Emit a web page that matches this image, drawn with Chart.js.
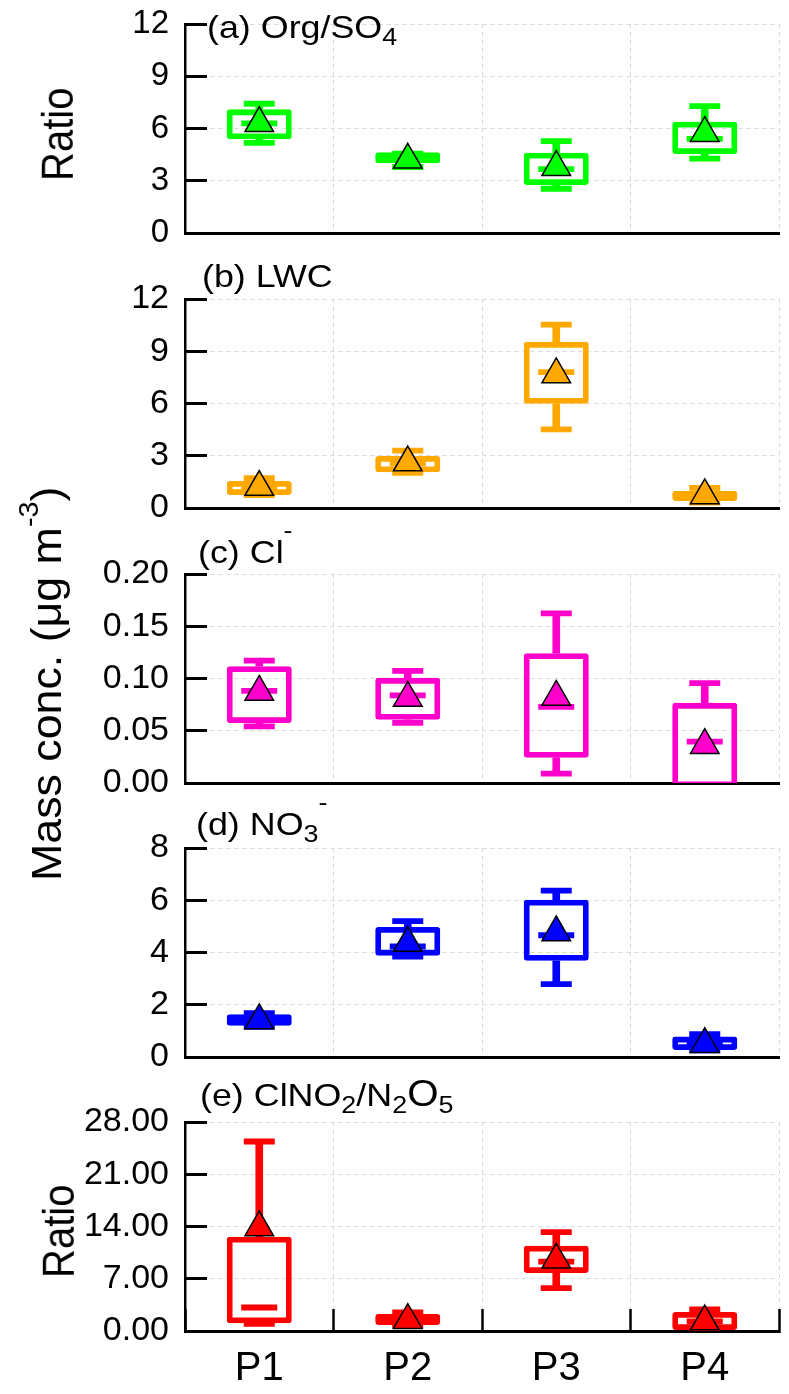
<!DOCTYPE html>
<html><head><meta charset="utf-8">
<script src="https://cdn.jsdelivr.net/npm/chart.js@4.4.0/dist/chart.umd.min.js"></script>
<style>
html,body{margin:0;padding:0;background:#fff;}
body{width:789px;height:1394px;position:relative;overflow:hidden;font-family:"Liberation Sans",Arial,sans-serif;}
canvas{position:absolute;left:0;}
.t{position:absolute;white-space:nowrap;font-size:32px;line-height:32px;color:#000;transform-origin:0 0;transform:scaleX(1.12);}
.sub{font-size:24px;line-height:0;vertical-align:-7px;}
.sup{font-size:24px;line-height:0;vertical-align:25px;}
.big{font-size:36px;line-height:0;}
.v{position:absolute;white-space:nowrap;font-size:40px;line-height:40px;color:#000;transform-origin:0 0;transform:rotate(-90deg) scaleY(1.1);}
.vm{position:absolute;white-space:nowrap;font-size:42px;line-height:42px;color:#000;transform-origin:0 0;transform:rotate(-90deg) scaleX(1.065);}
.vsup{font-size:27px;line-height:0;vertical-align:23px;}
</style></head><body>
<canvas id="ca" width="789" height="260" style="top:0px"></canvas>
<canvas id="cb" width="789" height="260" style="top:275px"></canvas>
<canvas id="cc" width="789" height="260" style="top:550px"></canvas>
<canvas id="cd" width="789" height="260" style="top:824px"></canvas>
<canvas id="ce" width="789" height="296" style="top:1098px"></canvas>

<div class="t" style="left:207px;top:11px">(a) Org/SO<span class="sub">4</span></div>
<div class="t" style="left:202px;top:260px">(b) LWC</div>
<div class="t" style="left:198px;top:530px">(c) Cl<span class="sup">-</span></div>
<div class="t" style="left:196px;top:802px">(d) NO<span class="sub">3</span><span class="sup">-</span></div>
<div class="t" style="left:200px;top:1079px">(e) ClNO<span class="sub">2</span>/N<span class="sub">2</span><span class="big">O</span><span class="sub">5</span></div>

<div class="v" style="left:35px;top:181px">Ratio</div>
<div class="v" style="left:36px;top:1278px">Ratio</div>
<div class="vm" style="left:26px;top:881px">Mass conc. (μg m<span class="vsup">-3</span>)</div>

<script>
const categories = ['P1', 'P2', 'P3', 'P4'];

// (a) Org/SO4 ratio
const orgMin  = [5.18, 3.79, 2.54, 4.27];
const orgQ1   = [5.38, 4.00, 2.76, 4.53];
const orgMed  = [6.30, 4.30, 3.67, 5.40];
const orgQ3   = [7.10, 4.63, 4.61, 6.39];
const orgMax  = [7.42, 4.56, 5.27, 7.28];
const orgMean = [6.30, 4.20, 3.78, 5.73];
const orgTicks = [0, 3, 6, 9, 12];
const orgTickLabels = ['0', '3', '6', '9', '12'];

// (b) LWC
const lwcMin  = [0.74, 2.02, 4.51, 0.31];
const lwcQ1   = [0.75, 2.05, 5.98, 0.40];
const lwcMed  = [1.17, 2.57, 7.80, 0.69];
const lwcQ3   = [1.55, 2.99, 9.54, 0.99];
const lwcMax  = [1.72, 3.29, 10.53, 1.15];
const lwcMean = [1.20, 2.61, 7.67, 0.72];
const lwcTicks = [0, 3, 6, 9, 12];
const lwcTickLabels = ['0', '3', '6', '9', '12'];

// (c) Cl-
const clMin  = [0.0541, 0.0576, 0.0089, -0.004];
const clQ1   = [0.0573, 0.0605, 0.0242, -0.004];
const clMed  = [0.0882, 0.0838, 0.0729, 0.0395];
const clQ3   = [0.1118, 0.1006, 0.1242, 0.0767];
const clMax  = [0.1172, 0.1073, 0.1624, 0.0955];
const clMean = [0.0871, 0.0814, 0.0823, 0.0362];
const clTicks = [0, 0.05, 0.10, 0.15, 0.20];
const clTickLabels = ['0.00', '0.05', '0.10', '0.15', '0.20'];

// (d) NO3-
const no3Min  = [1.15, 3.84, 2.79, 0.25];
const no3Q1   = [1.20, 3.88, 3.68, 0.27];
const no3Med  = [1.42, 4.23, 4.66, 0.51];
const no3Q3   = [1.64, 4.98, 6.02, 0.78];
const no3Max  = [1.68, 5.20, 6.37, 0.87];
const no3Mean = [1.40, 4.36, 4.77, 0.49];
const no3Ticks = [0, 2, 4, 6, 8];
const no3TickLabels = ['0', '2', '4', '6', '8'];

// (e) ClNO2/N2O5 ratio
const rMin  = [0.95, 0.71, 5.74, 0.10];
const rQ1   = [1.03, 0.80, 7.77, 0.13];
const rMed  = [3.15, 1.51, 9.29, 1.30];
const rQ3   = [12.64, 2.28, 11.43, 2.55];
const rMax  = [25.39, 2.50, 13.24, 2.90];
const rMean = [13.87, 1.45, 9.54, 1.27];
const rTicks = [0, 7, 14, 21, 28];
const rTickLabels = ['0.00', '7.00', '14.00', '21.00', '28.00'];

const FONT = "'Liberation Sans', Arial, sans-serif";
const GRID = '#d9d9d9';

function makePanel(id, color, mn, q1, med, q3, mx, mean, yTicks, yLabels, showX, xHeight, padBottom, tickSize) {
  const pair = (a, b) => a.map((v, i) => [v, b[i]]);
  new Chart(document.getElementById(id), {
    type: 'bar',
    data: {
      labels: categories,
      datasets: [
        { type: 'line', label: 'mean', data: mean, showLine: false, pointStyle: 'triangle',
          pointRadius: 16.5, pointBackgroundColor: color, pointBorderColor: '#000', pointBorderWidth: 1.5, order: 0 },
        { type: 'line', label: 'median', data: med, showLine: false, pointStyle: 'line',
          pointRadius: 18, pointBorderColor: color, pointBorderWidth: 5.8, order: 1 },
        { type: 'line', label: 'max', data: mx, showLine: false, pointStyle: 'line',
          pointRadius: 15.5, pointBorderColor: color, pointBorderWidth: 5.8, order: 2 },
        { type: 'line', label: 'min', data: mn, showLine: false, pointStyle: 'line',
          pointRadius: 15.5, pointBorderColor: color, pointBorderWidth: 5.8, order: 2 },
        { type: 'bar', label: 'box', data: pair(q1, q3), backgroundColor: 'rgba(0,0,0,0)',
          borderColor: color, borderWidth: 5.8, borderSkipped: false, borderRadius: 3,
          barPercentage: 0.438, categoryPercentage: 1, grouped: false, order: 3 },
        { type: 'bar', label: 'upper', data: pair(q3, mx), backgroundColor: color,
          barThickness: 7, grouped: false, order: 4 },
        { type: 'bar', label: 'lower', data: pair(mn, q1), backgroundColor: color,
          barThickness: 7, grouped: false, order: 4 }
      ]
    },
    options: {
      responsive: false,
      animation: false,
      layout: { autoPadding: false, padding: { top: 24, right: 10, bottom: padBottom, left: 0 } },
      plugins: { legend: { display: false }, tooltip: { enabled: false }, title: { display: false } },
      scales: {
        x: {
          type: 'category',
          offset: true,
          grid: { display: true, offset: true, color: GRID, lineWidth: 1, drawTicks: showX,
                  tickLength: -22, tickColor: '#000', tickWidth: 2.5 },
          border: { display: true, color: '#000', width: 3, dash: [4, 4] },
          ticks: { display: showX, padding: 36, color: '#000', font: { family: FONT, size: 40 } },
          afterFit: s => { s.height = xHeight; s.paddingLeft = 0; s.paddingRight = 0; s.paddingTop = 0; s.paddingBottom = 0; }
        },
        y: {
          min: yTicks[0],
          max: yTicks[yTicks.length - 1],
          grid: { color: GRID, lineWidth: 1, tickLength: -22, tickColor: '#000', tickWidth: 3 },
          border: { display: true, color: '#000', width: 2.5, dash: [4, 4] },
          ticks: { padding: 38, color: '#000', font: { family: FONT, size: tickSize },
                   callback: (v, i) => yLabels[i] },
          afterBuildTicks: s => { s.ticks = yTicks.map(v => ({ value: v })); },
          afterFit: s => { s.width = 185; s.paddingTop = 0; s.paddingBottom = 0; s.paddingLeft = 0; s.paddingRight = 0; }
        }
      }
    }
  });
}

makePanel('ca', '#00ff00', orgMin, orgQ1, orgMed, orgQ3, orgMax, orgMean, orgTicks, orgTickLabels, false, 0, 27, 33);
makePanel('cb', '#ffa800', lwcMin, lwcQ1, lwcMed, lwcQ3, lwcMax, lwcMean, lwcTicks, lwcTickLabels, false, 0, 27, 34);
makePanel('cc', '#ff00cc', clMin, clQ1, clMed, clQ3, clMax, clMean, clTicks, clTickLabels, false, 0, 27, 34);
makePanel('cd', '#0000ff', no3Min, no3Q1, no3Med, no3Q3, no3Max, no3Mean, no3Ticks, no3TickLabels, false, 0, 27, 34);
makePanel('ce', '#ff0000', rMin, rQ1, rMed, rQ3, rMax, rMean, rTicks, rTickLabels, true, 63, 0, 34);
</script>
</body></html>
